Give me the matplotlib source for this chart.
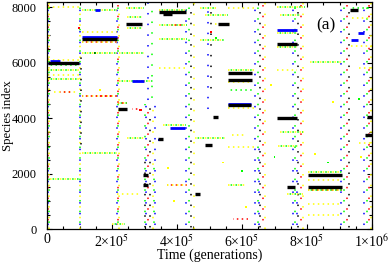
import matplotlib
matplotlib.use("Agg")
import matplotlib.pyplot as plt
from matplotlib.ticker import MultipleLocator

plt.rcParams['font.family'] = ['Liberation Serif', 'DejaVu Serif']
plt.rcParams['mathtext.fontset'] = 'stix'

# time values in units of 1000 generations, species index as is

# dense (black) occupied species bands: start, end, species
black_t0 = [3, 108, 243, 345, 357, 526, 557, 557, 218, 708, 708, 803, 803, 738, 932, 985, 978, 511, 295, 295, 455, 342, 486, 557]
black_t1 = [98, 215, 292, 428, 385, 560, 631, 631, 246, 769, 769, 908, 908, 763, 957, 1000, 1000, 526, 311, 311, 471, 357, 508, 628]
black_s = [5985, 6845, 7410, 7835, 7745, 7400, 5630, 5390, 4330, 6680, 4000, 1940, 1500, 1500, 7900, 4040, 3390, 4030, 1940, 1580, 1250, 3240, 3020, 4470]

# dense blue bands
blue_t0 = [108, 262, 378, 708, 557, 935, 957, 148, 9]
blue_t1 = [215, 298, 425, 769, 628, 957, 975, 163, 40]
blue_s = [6930, 5340, 3640, 7180, 4510, 6820, 7070, 7905, 6070]

# sparse dotted species rows: start, end, species, colour
row_t0 = [3, 3, 3, 3, 3, 3, 3, 3, 21, 40, 9, 9,
          108, 108, 108, 108, 108, 108, 108, 108, 108, 150, 108, 108,
          243, 243, 246, 246, 246, 246, 222, 222, 222, 222, 218, 218, 218, 262, 246, 246, 215, 200, 200,
          345, 345, 345, 345, 380, 345, 345, 345, 357, 357, 369, 369,
          486, 486, 517, 471, 471, 455, 455, 471, 471,
          557, 557, 557, 557, 557, 557, 557, 557, 572, 557, 569,
          708, 708, 717, 717, 708, 708, 708, 708, 711, 711, 717, 717, 738, 738, 708,
          809, 809, 803, 803, 803, 803, 803, 803, 803, 803,
          932, 938, 935, 960, 960]
row_t1 = [98, 98, 98, 98, 98, 98, 98, 98, 92, 80, 98, 98,
          215, 215, 215, 215, 215, 215, 215, 215, 215, 200, 215, 215,
          298, 298, 292, 292, 292, 292, 298, 298, 326, 326, 246, 246, 246, 286, 298, 298, 286, 240, 240,
          431, 431, 431, 431, 420, 431, 431, 431, 428, 428, 431, 431,
          557, 557, 563, 545, 545, 548, 548, 520, 520,
          640, 640, 631, 634, 640, 640, 609, 609, 618, 640, 609,
          794, 794, 778, 778, 769, 769, 769, 769, 772, 772, 788, 788, 788, 788, 769,
          908, 908, 908, 908, 908, 908, 908, 908, 908, 908,
          1000, 1000, 1000, 1000, 1000]
row_s = [8010, 6090, 5925, 5740, 5740, 5560, 5410, 5410, 4950, 4950, 1800, 1800,
         7905, 7905, 7110, 6760, 6760, 6350, 6350, 4800, 4800, 4800, 2760, 2760,
         7980, 7980, 7650, 7650, 7250, 7250, 6350, 6350, 5340, 5340, 4560, 4560, 4560, 4330, 3270, 3270, 1250, 170, 170,
         7920, 7920, 7360, 7360, 7360, 6850, 6850, 5800, 3740, 3740, 1580, 1580,
         7720, 7720, 7400, 6820, 6820, 3300, 3300, 7980, 7980,
         5720, 5720, 5290, 5010, 4380, 2950, 1570, 1570, 350, 7980, 3400,
         8010, 8010, 7720, 7720, 7070, 7070, 6560, 6560, 3000, 3000, 3500, 3500, 1250, 1250, 5740,
         6020, 6020, 2050, 2050, 1400, 1400, 1400, 890, 495, 1780,
         7980, 7600, 6600, 5800, 3100]
row_c = ['y', 'y', 'g', 'g', 'y', 'y', 'y', 'g', 'y', 'r', 'g', 'y',
         'g', 'y', 'y', 'r', 'y', 'g', 'y', 'y', 'r', 'r', 'y', 'g',
         'y', 'g', 'g', 'y', 'y', 'g', 'g', 'y', 'y', 'g', 'y', 'g', 'r', 'r', 'g', 'y', 'y', 'y', 'g',
         'g', 'y', 'y', 'g', 'r', 'g', 'y', 'y', 'y', 'g', 'r', 'y',
         'g', 'y', 'y', 'g', 'y', 'y', 'g', 'g', 'y',
         'y', 'g', 'y', 'g', 'y', 'y', 'y', 'g', 'r', 'y', 'y',
         'y', 'g', 'y', 'g', 'g', 'y', 'y', 'g', 'g', 'y', 'g', 'y', 'y', 'g', 'y',
         'y', 'g', 'g', 'y', 'r', 'g', 'y', 'y', 'y', 'y',
         'g', 'y', 'y', 'y', 'y']

# vertical bursts of short-lived species: time, species from, species to, colour
col_t = [2, 4, 5, 6,
         100, 101, 103, 104,
         215, 217, 219, 220,
         300, 305, 310, 318, 325, 333, 312, 322, 302, 328,
         428, 436, 444, 452,
         496, 505,
         640, 648, 656, 664, 670, 652,
         756, 764, 772, 780, 788, 768,
         905, 914, 922, 930,
         976, 984, 992, 997]
col_s0 = [0, 0, 0, 0,
          0, 0, 0, 3000,
          0, 0, 0, 0,
          0, 0, 0, 0, 0, 0, 4500, 4500, 0, 0,
          0, 0, 0, 0,
          4200, 5000,
          0, 0, 0, 0, 0, 0,
          0, 0, 0, 0, 0, 0,
          0, 0, 0, 0,
          0, 0, 0, 0]
col_s1 = [8192, 8192, 8192, 8192,
          8000, 8000, 8000, 6500,
          8100, 8100, 8100, 8100,
          4500, 4500, 4500, 4500, 4500, 4500, 8192, 8192, 2500, 2500,
          8192, 8192, 8192, 8192,
          8192, 8192,
          8192, 8192, 8192, 8192, 8192, 3000,
          8192, 8192, 8192, 8192, 8192, 2500,
          8192, 8192, 8192, 8192,
          8192, 8192, 8192, 8192]
col_c = ['r', 'b', 'g', 'y',
         'b', 'g', 'y', 'k',
         'b', 'g', 'r', 'y',
         'g', 'b', 'r', 'k', 'y', 'b', 'b', 'g', 'k', 'g',
         'b', 'g', 'k', 'y',
         'b', 'k',
         'b', 'g', 'k', 'r', 'y', 'b',
         'b', 'g', 'k', 'r', 'y', 'b',
         'b', 'g', 'r', 'k',
         'b', 'g', 'r', 'y']

# isolated points
pt_t = [99, 148, 163, 286, 290, 346, 372, 392, 505, 521, 541, 600, 613, 690, 700, 826, 866, 880, 960, 965]
pt_s = [7250, 6350, 5000, 4300, 4280, 3200, 2200, 1000, 7100, 6900, 2400, 2100, 800, 5200, 2600, 2700, 2400, 4600, 4700, 2600]
pt_c = ['r', 'k', 'y', 'r', 'r', 'b', 'y', 'y', 'r', 'g', 'y', 'g', 'y', 'y', 'g', 'y', 'g', 'y', 'g', 'y']

colors = {'y': '#ffff00', 'g': '#00ff00', 'r': '#ff0000', 'b': '#0000ff', 'k': '#000000'}
offs = {'y': 0, 'g': 1.5, 'r': 0.7, 'b': 2.2, 'k': 3.0}

fig = plt.figure(figsize=(3.9, 2.64), dpi=100)
ax = fig.add_axes([47 / 390, 1 - 229 / 264, 325 / 390, 227 / 264])

for t, s0, s1, c in zip(col_t, col_s0, col_s1, col_c):
    ax.plot([t * 1e3, t * 1e3], [s0, s1], color=colors[c], lw=1.1,
            ls=(offs[c] * 2, (1, 6)), solid_capstyle='butt')

for t0, t1, s, c in zip(row_t0, row_t1, row_s, row_c):
    ax.plot([t0 * 1e3, t1 * 1e3], [s, s], color=colors[c], lw=1.1,
            ls=(offs[c], (1, 2.2)))

for t0, t1, s in zip(blue_t0, blue_t1, blue_s):
    ax.plot([t0 * 1e3, t1 * 1e3], [s, s], color='#0000ff', lw=2.0, solid_capstyle='butt')

for t0, t1, s in zip(black_t0, black_t1, black_s):
    ax.plot([t0 * 1e3, t1 * 1e3], [s, s], color='black', lw=2.4, solid_capstyle='butt')

ax.scatter([t * 1e3 for t in pt_t], pt_s, c=[colors[c] for c in pt_c], s=2, marker='s', lw=0)

ax.set_xlim(0, 1e6)
ax.set_ylim(0, 8192)
ax.xaxis.set_minor_locator(MultipleLocator(5e4))
ax.yaxis.set_major_locator(MultipleLocator(2000))
ax.yaxis.set_minor_locator(MultipleLocator(500))
ax.set_xticks([0, 2e5, 4e5, 6e5, 8e5, 1e6])
ax.set_xticklabels(["0", "2×10$^5$", "4×10$^5$", "6×10$^5$", "8×10$^5$", "1×10$^6$"])
ax.tick_params(which='both', direction='in', top=True, right=True, width=0.8, labelsize=10)
ax.tick_params(axis='y', labelsize=9, pad=7.5)
ax.tick_params(which='major', length=3.6)
ax.tick_params(which='minor', length=2.2)
ax.tick_params(axis='x', pad=3)
for sp in ax.spines.values():
    sp.set_linewidth(0.9)

ax.set_xlabel("Time (generations)", fontsize=10, labelpad=-1)
ax.set_ylabel("Species index", fontsize=9.2)
ax.yaxis.set_label_coords(-0.100, 0.5)
ax.text(858e3, 7362, "(a)", fontsize=12.5, ha='center', va='center')

fig.savefig("out.png", dpi=100)
